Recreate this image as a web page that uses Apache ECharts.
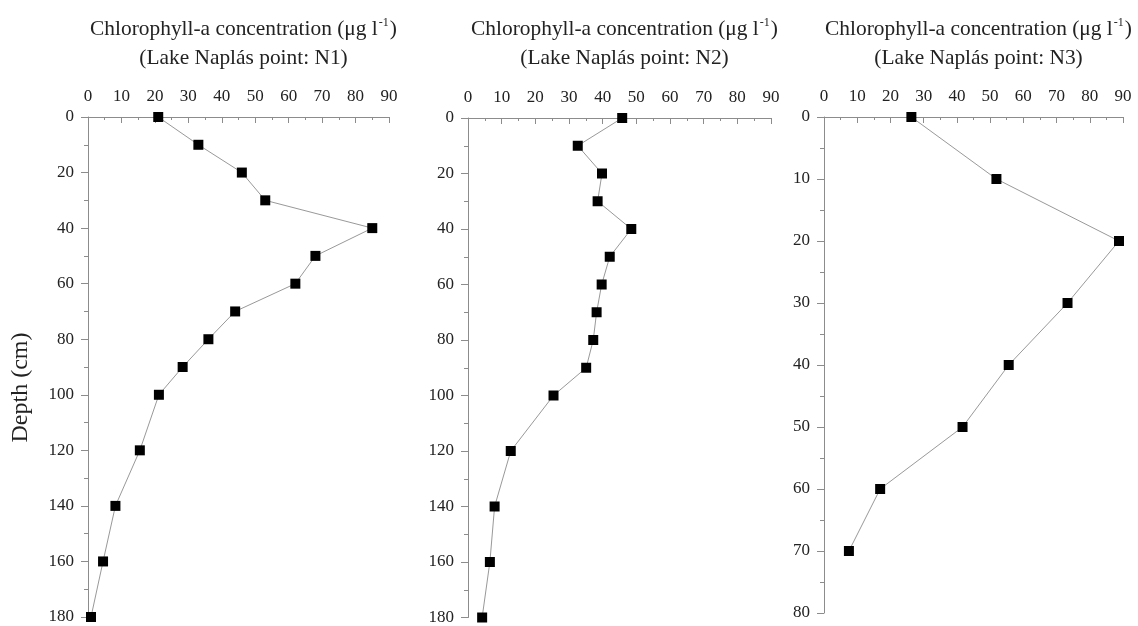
<!DOCTYPE html>
<html>
<head>
<meta charset="utf-8">
<script src="https://cdn.jsdelivr.net/npm/echarts@6/dist/echarts.min.js"></script>
<style>
html,body{margin:0;padding:0;background:#fff;}
#main{width:1138px;height:626px;}
</style>
</head>
<body>
<div id="main"></div>
<script>
// ---- data ----
const depthN1 = [0, 10, 20, 30, 40, 50, 60, 70, 80, 90, 100, 120, 140, 160, 180];
const chlN1   = [21, 33, 46, 53, 85, 68, 62, 44, 36, 28.3, 21.2, 15.5, 8.2, 4.5, 0.9];
const depthN2 = [0, 10, 20, 30, 40, 50, 60, 70, 80, 90, 100, 120, 140, 160, 180];
const chlN2   = [45.8, 32.6, 39.8, 38.5, 48.5, 42.1, 39.7, 38.2, 37.2, 35.1, 25.4, 12.7, 7.9, 6.5, 4.2];
const depthN3 = [0, 10, 20, 30, 40, 50, 60, 70];
const chlN3   = [26.3, 51.9, 88.8, 73.3, 55.6, 41.7, 16.9, 7.5];
const pointNames = ['N1', 'N2', 'N3'];
const titleLine1 = 'Chlorophyll-a concentration (\u03bcg l{sup|-1})';
const depthLabel = 'Depth (cm)';

const FONT = "'Liberation Serif', 'Times New Roman', serif";
const TXT = '#222';
const AX = '#8c8c8c';

const grids = [
  {left: 88,  width: 301, top: 117, height: 500},
  {left: 468, width: 303, top: 118, height: 500},
  {left: 824, width: 299, top: 117, height: 496}
];
const yMax = [180, 180, 80];
const yInt = [20, 20, 10];
const series = [[chlN1, depthN1], [chlN2, depthN2], [chlN3, depthN3]];

const option = {
  animation: false,
  backgroundColor: '#fff',
  title: grids.map((g, i) => ({
    text: titleLine1 + '\n(Lake Napl\u00e1s point: ' + pointNames[i] + ')',
    left: g.left + g.width / 2,
    top: 10,
    textAlign: 'center',
    textStyle: {
      fontFamily: FONT, fontSize: 21.4, fontWeight: 'normal', color: TXT, lineHeight: 29,
      rich: {
        sup: {fontFamily: FONT, fontSize: 12, color: TXT, verticalAlign: 'top', lineHeight: 12, padding: [2, 1, 0, 1]}
      }
    }
  })),
  grid: grids,
  xAxis: grids.map((g, i) => ({
    type: 'value', gridIndex: i, position: 'top', min: 0, max: 90, interval: 10,
    axisLine: {show: true, lineStyle: {color: AX, width: 1}},
    axisTick: {show: true, inside: true, length: 6, lineStyle: {color: AX}},
    minorTick: {show: true, splitNumber: 2, length: 3, lineStyle: {color: AX}},
    axisLabel: {fontFamily: FONT, fontSize: 17, color: TXT, margin: 12, showMaxLabel: true, showMinLabel: true},
    splitLine: {show: false}
  })),
  yAxis: grids.map((g, i) => ({
    type: 'value', gridIndex: i, inverse: true, min: 0, max: yMax[i], interval: yInt[i],
    name: i === 0 ? depthLabel : '',
    nameLocation: 'middle', nameGap: 55,
    nameTextStyle: {fontFamily: FONT, fontSize: 24, color: TXT, padding: [0, 41, 0, 0]},
    axisLine: {show: true, lineStyle: {color: AX, width: 1}},
    axisTick: {show: true, inside: false, length: 7, lineStyle: {color: AX}},
    minorTick: {show: true, splitNumber: 2, length: 4, lineStyle: {color: AX}},
    axisLabel: {fontFamily: FONT, fontSize: 17, color: TXT, margin: 14},
    splitLine: {show: false}
  })),
  series: series.map((s, i) => ({
    type: 'line', xAxisIndex: i, yAxisIndex: i,
    data: s[0].map((v, k) => [v, s[1][k]]),
    symbol: 'rect', symbolSize: 10,
    itemStyle: {color: '#000'},
    lineStyle: {color: '#999', width: 1},
    clip: false
  }))
};

const chart = echarts.init(document.getElementById('main'), null, {renderer: 'canvas'});
chart.setOption(option);
</script>
</body>
</html>
